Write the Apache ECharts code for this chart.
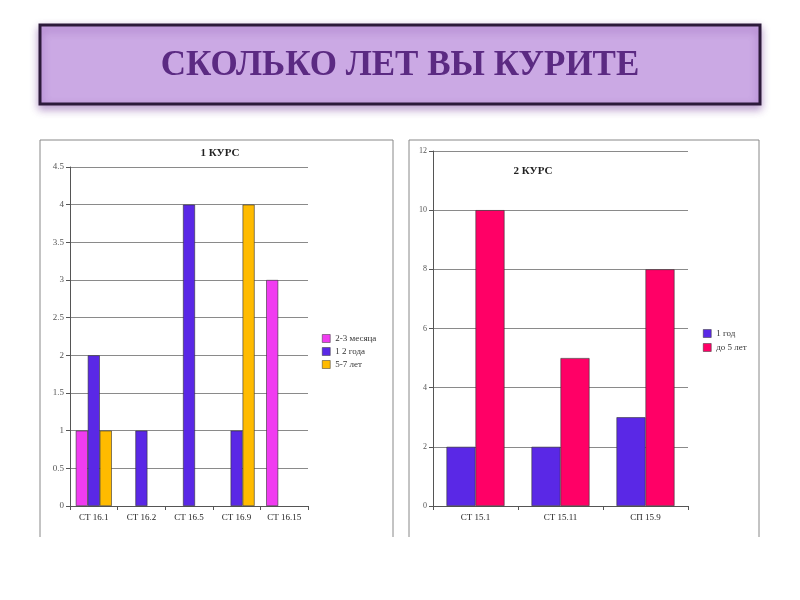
<!DOCTYPE html>
<html><head><meta charset="utf-8">
<script src="https://cdn.jsdelivr.net/npm/echarts@6/dist/echarts.min.js"></script>
<style>html,body{margin:0;padding:0;background:#fff}#c{width:800px;height:600px}</style>
</head><body><div id="c"></div>
<script>
const pageTitle = 'СКОЛЬКО ЛЕТ ВЫ КУРИТЕ';
const title1 = '1 КУРС';
const title2 = '2 КУРС';
const cats1 = ['СТ 16.1','СТ 16.2','СТ 16.5','СТ 16.9','СТ 16.15'];
const s1Names = ['2-3 месяца','1 2 года','5-7 лет'];
const s1a = [1, 0, 0, 0, 3];
const s1b = [2, 1, 4, 1, 0];
const s1c = [1, 0, 0, 4, 0];
const cats2 = ['СТ 15.1','СТ 15.11','СП 15.9'];
const s2Names = ['1 год','до 5 лет'];
const s2a = [2, 2, 3];
const s2b = [10, 5, 8];

const F = '"Liberation Serif", "DejaVu Serif", serif';
const chart = echarts.init(document.getElementById('c'));
const col = {mag:'#f03cf0', blue:'#5a28e6', gold:'#ffbb00', pink:'#ff0066'};
function bar(name, data, color, xi, w){
  return {type:'bar', name, data: data.map(v => v === 0 ? '-' : v), xAxisIndex:xi, yAxisIndex:xi, barWidth:w, barGap:'0%',
    itemStyle:{color, borderColor:'#333', borderWidth:0.6}, animation:false};
}
const axLine = {show:true, lineStyle:{color:'#555',width:1}};
const axTick = {show:true, length:4, lineStyle:{color:'#555'}};
chart.setOption({
  animation:false,
  backgroundColor:'#fff',
  title:[
    {text:title1, left:215, top:143, textAlign:'center', textStyle:{fontFamily:F,fontSize:11,fontWeight:'bold',color:'#222'}},
    {text:title2, left:528, top:161, textAlign:'center', textStyle:{fontFamily:F,fontSize:11,fontWeight:'bold',color:'#222'}}
  ],
  legend:[
    {data:s1Names, orient:'vertical', left:317, top:329, itemWidth:8, itemHeight:8, itemGap:4, icon:'rect',
      itemStyle:{borderColor:'#333',borderWidth:0.5}, textStyle:{fontFamily:F,fontSize:9,color:'#333'}},
    {data:s2Names, orient:'vertical', left:698, top:324, itemWidth:8, itemHeight:8, itemGap:5, icon:'rect',
      itemStyle:{borderColor:'#333',borderWidth:0.5}, textStyle:{fontFamily:F,fontSize:9,color:'#333'}}
  ],
  grid:[
    {left:70, right:492, top:167, bottom:94},
    {left:433, right:112, top:151, bottom:94}
  ],
  xAxis:[
    {type:'category', gridIndex:0, data:cats1, axisLine:axLine, axisTick:axTick,
      axisLabel:{fontFamily:F,fontSize:9,color:'#222',margin:7}},
    {type:'category', gridIndex:1, data:cats2, axisLine:axLine, axisTick:axTick,
      axisLabel:{fontFamily:F,fontSize:9,color:'#222',margin:7}}
  ],
  yAxis:[
    {type:'value', gridIndex:0, min:0, max:4.5, interval:0.5, axisLine:axLine, axisTick:axTick,
      axisLabel:{fontFamily:F,fontSize:9,color:'#555',margin:6},
      splitLine:{lineStyle:{color:'#8a8a8a',width:1}}},
    {type:'value', gridIndex:1, min:0, max:12, interval:2, axisLine:axLine, axisTick:axTick,
      axisLabel:{fontFamily:F,fontSize:8,color:'#555',margin:6},
      splitLine:{lineStyle:{color:'#8a8a8a',width:1}}}
  ],
  series:[
    bar(s1Names[0], s1a, col.mag, 0, 12),
    bar(s1Names[1], s1b, col.blue, 0, 12),
    bar(s1Names[2], s1c, col.gold, 0, 12),
    bar(s2Names[0], s2a, col.blue, 1, 29),
    bar(s2Names[1], s2b, col.pink, 1, 29)
  ],
  graphic:[
    {type:'rect', shape:{x:40,y:25,width:720,height:79}, z:-1,
      style:{fill:'#cba9e4', stroke:'#2c1a3a', lineWidth:3, shadowBlur:8, shadowOffsetY:4, shadowColor:'rgba(110,50,150,0.45)'}},
    {type:'text', x:400, y:66, z:10,
      style:{text:pageTitle, textAlign:'center', textVerticalAlign:'middle', font:'bold 35px "Liberation Serif", serif', fill:'#5b2a82'}},
    {type:'polyline', shape:{points:[[40,537],[40,140],[393,140],[393,537]]}, style:{stroke:'#888', lineWidth:1, fill:null}},
    {type:'polyline', shape:{points:[[409,537],[409,140],[759,140],[759,537]]}, style:{stroke:'#888', lineWidth:1, fill:null}}
  ]
});
</script></body></html>
